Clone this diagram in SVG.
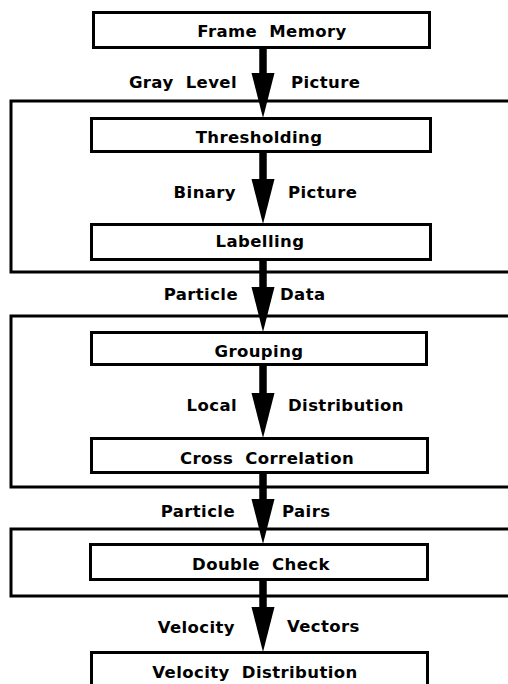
<svg xmlns="http://www.w3.org/2000/svg" width="508" height="684" viewBox="0 0 508 684">
<style>
.box{fill:#fff;stroke:#000;stroke-width:3}
.grp{fill:none;stroke:#000;stroke-width:3}
.t{font-family:"DejaVu Sans","Liberation Sans",sans-serif;font-weight:bold;font-size:16.5px;fill:#000;word-spacing:6px;letter-spacing:0.4px}
.c{text-anchor:middle}
.e{text-anchor:end}
.s{text-anchor:start}
.shaft{stroke:#000;stroke-width:7.5}
.head{fill:#000}
</style>
<rect width="508" height="684" fill="#fff"/>
<g id="groups">
<path class="grp" d="M508 101 H11 V272 H508"/>
<path class="grp" d="M508 316 H11 V487 H508"/>
<path class="grp" d="M508 529 H11 V596 H508"/>
</g>
<g id="connectors">
<line class="shaft" x1="263" y1="48" x2="263" y2="75"/>
<polygon class="head" points="251.5,73 274.5,73 263,118"/>
<line class="shaft" x1="263" y1="152" x2="263" y2="182"/>
<polygon class="head" points="251.5,179 274.5,179 263,224"/>
<line class="shaft" x1="263" y1="260" x2="263" y2="290"/>
<polygon class="head" points="251.5,287 274.5,287 263,332"/>
<line class="shaft" x1="263" y1="365" x2="263" y2="396"/>
<polygon class="head" points="251.5,393 274.5,393 263,438"/>
<line class="shaft" x1="263" y1="473" x2="263" y2="502"/>
<polygon class="head" points="251.5,499 274.5,499 263,544"/>
<line class="shaft" x1="263" y1="580" x2="263" y2="610"/>
<polygon class="head" points="251.5,607 274.5,607 263,652"/>
<text class="t e" x="237" y="88">Gray Level</text>
<text class="t s" x="291" y="88">Picture</text>
<text class="t e" x="236" y="198">Binary</text>
<text class="t s" x="288" y="198">Picture</text>
<text class="t e" x="238" y="300">Particle</text>
<text class="t s" x="280" y="300">Data</text>
<text class="t e" x="237" y="411">Local</text>
<text class="t s" x="288" y="411">Distribution</text>
<text class="t e" x="235" y="517">Particle</text>
<text class="t s" x="282" y="517">Pairs</text>
<text class="t e" x="235" y="633">Velocity</text>
<text class="t s" x="287" y="632">Vectors</text>
</g>
<g id="frame-memory">
<rect class="box" x="93.5" y="12.5" width="336" height="35"/>
<text class="t c" x="272" y="37">Frame Memory</text>
</g>
<g id="thresholding">
<rect class="box" x="91.5" y="118.5" width="339" height="33"/>
<text class="t c" x="259" y="143">Thresholding</text>
</g>
<g id="labelling">
<rect class="box" x="91.5" y="224.5" width="339" height="35"/>
<text class="t c" x="260" y="247">Labelling</text>
</g>
<g id="grouping">
<rect class="box" x="91.5" y="332.5" width="335" height="32"/>
<text class="t c" x="259" y="357">Grouping</text>
</g>
<g id="cross-correlation">
<rect class="box" x="91.5" y="438.5" width="336" height="34"/>
<text class="t c" x="267" y="464">Cross Correlation</text>
</g>
<g id="double-check">
<rect class="box" x="90.5" y="544.5" width="337" height="35"/>
<text class="t c" x="261" y="570">Double Check</text>
</g>
<g id="velocity-distribution">
<rect class="box" x="91.5" y="652.5" width="336" height="40"/>
<text class="t c" x="255" y="678">Velocity Distribution</text>
</g>
</svg>
